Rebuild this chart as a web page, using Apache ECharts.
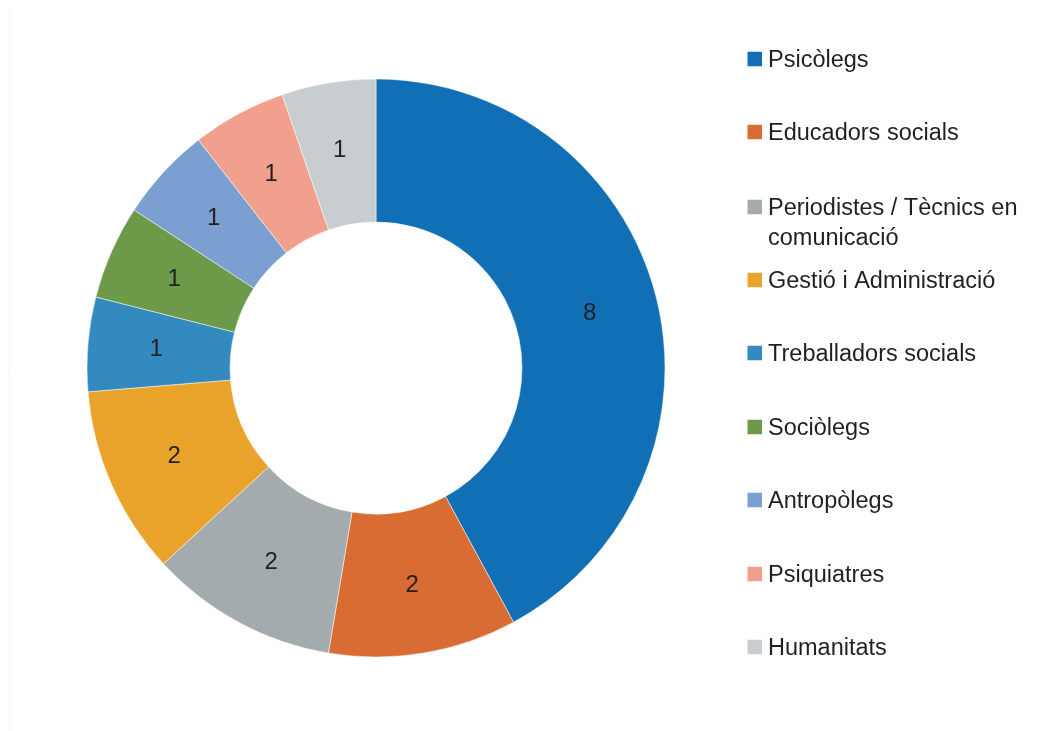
<!DOCTYPE html>
<html>
<head>
<meta charset="utf-8">
<script src="https://cdn.jsdelivr.net/npm/echarts@6/dist/echarts.min.js"></script>
<style>
    html, body { margin: 0; padding: 0; background: #fff; }
    #chart { width: 1041px; height: 731px; }
</style>
</head>
<body>
<div id="chart"></div>
<script>
// 类别
const categories = ['Psicòlegs', 'Educadors socials', 'Periodistes / Tècnics en comunicació',
    'Gestió i Administració', 'Treballadors socials', 'Sociòlegs', 'Antropòlegs', 'Psiquiatres', 'Humanitats'];
// 数值
const values = [8, 2, 2, 2, 1, 1, 1, 1, 1];
// 颜色
const colors = ['#116fb5', '#d96c32', '#a4abae', '#e9a22a', '#338abf', '#6c9a48', '#7b9fd1', '#f0a08c', '#c8cdcf'];
// 图例标记中心的纵坐标
const legendY = [59, 132, 206, 280, 353, 427, 500, 574, 647];

const fontFamily = '"Liberation Sans", Arial, Helvetica, sans-serif';

// 每个图例单独定位；两行的那一项前面加一个空行，让第一行对齐标记
const legends = categories.map((name, i) => {
    const twoLine = name.startsWith('Periodistes');
    return {
        data: [name],
        orient: 'vertical',
        left: 745.5,
        top: twoLine ? legendY[i] - 43 : legendY[i] - 14,
        padding: 0,
        icon: 'rect',
        itemWidth: 16.5,
        itemHeight: 16.5,
        itemGap: 0,
        selectedMode: false,
        formatter: twoLine
            ? () => '{t| }\n{t|Periodistes / Tècnics en}\n{t|comunicació}'
            : n => '{t|' + n + '}',
        textStyle: {
            fontFamily,
            fontSize: 23.5,
            color: '#231f20',
            rich: {
                t: {
                    fontFamily,
                    fontSize: 23.5,
                    color: '#231f20',
                    lineHeight: 30,
                    padding: [4, 0, 0, 0]
                }
            }
        }
    };
});

const chart = echarts.init(document.getElementById('chart'));
chart.setOption({
    backgroundColor: '#fff',
    animation: false,
    color: colors,
    legend: legends,
    graphic: [{
        type: 'line',
        shape: { x1: 9.5, y1: 10, x2: 9.5, y2: 731 },
        style: { stroke: '#eaf6fa', lineWidth: 1 }
    }],
    series: [{
        type: 'pie',
        center: [376, 368],
        radius: [146, 289],
        startAngle: 90,
        clockwise: true,
        avoidLabelOverlap: false,
        itemStyle: { borderColor: '#fff', borderWidth: 0.5 },
        label: {
            show: true,
            position: 'inside',
            formatter: '{c}',
            fontFamily,
            fontSize: 24,
            color: '#231f20'
        },
        labelLine: { show: false },
        emphasis: { disabled: true },
        data: categories.map((name, i) => ({ name, value: values[i] }))
    }]
});
</script>
</body>
</html>
